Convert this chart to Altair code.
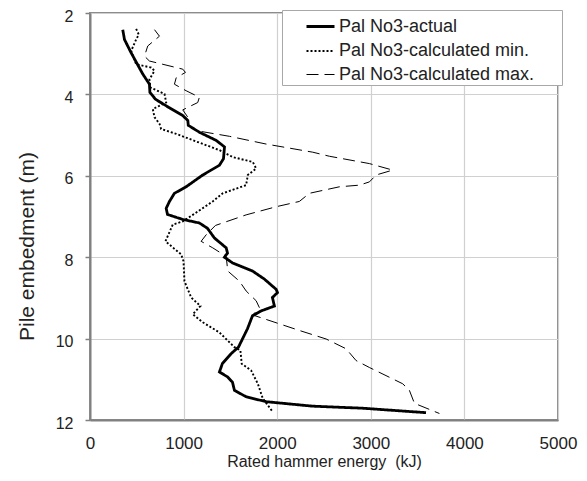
import altair as alt
import pandas as pd

series_names = ["Pal No3-actual", "Pal No3-calculated min.", "Pal No3-calculated max."]

actual_x = [350, 368, 440, 564, 635, 640, 700, 849, 991, 1045, 1050, 1169, 1348, 1437, 1426, 1383,
            1205, 1027, 902, 849, 814, 828, 988, 1169, 1255, 1330, 1455, 1469, 1436, 1522, 1736,
            1864, 1989, 2003, 1949, 1970, 1828, 1736, 1682, 1586, 1508, 1415, 1383, 1469, 1522,
            1543, 1668, 1882, 2376, 2910, 3590]
actual_y = [2.41, 2.65, 2.98, 3.50, 3.75, 3.95, 4.12, 4.33, 4.52, 4.64, 4.76, 4.93, 5.13, 5.29, 5.58, 5.74,
            5.98, 6.27, 6.43, 6.63, 6.80, 6.95, 7.07, 7.16, 7.29, 7.53, 7.77, 7.90, 8.00, 8.14, 8.34,
            8.54, 8.79, 8.87, 8.99, 9.20, 9.32, 9.44, 9.76, 10.21, 10.37, 10.61, 10.82, 10.94, 11.07,
            11.27, 11.43, 11.55, 11.66, 11.71, 11.82]

min_x = [493, 521, 493, 440, 493, 654, 689, 635, 646, 796, 814, 671, 689, 742, 760, 921, 1151, 1383,
         1525, 1739, 1775, 1686, 1668, 1418, 1311, 1098, 991, 884, 806, 974, 999, 1009, 1081, 1180,
         1098, 1205, 1383, 1543, 1607, 1621, 1721, 1793, 1846, 1952]
min_y = [2.39, 2.53, 2.65, 2.93, 3.26, 3.34, 3.42, 3.63, 3.83, 3.99, 4.20, 4.36, 4.56, 4.72, 4.85, 4.97,
         5.17, 5.37, 5.54, 5.66, 5.82, 5.98, 6.23, 6.43, 6.63, 6.96, 7.12, 7.20, 7.61, 7.93, 8.10, 8.59,
         8.99, 9.20, 9.40, 9.60, 9.85, 10.21, 10.29, 10.62, 10.78, 11.11, 11.47, 11.80]

max_x = [689, 742, 617, 582, 635, 778, 991, 1020, 921, 902, 1027, 1169, 1151, 991, 1045, 1045, 1134,
         1490, 1882, 2380, 2558, 2985, 3234, 3057, 2985, 2878, 2665, 2344, 2237, 1989, 1668, 1340,
         1241, 1187, 1311, 1455, 1472, 1597, 1668, 1775, 1810, 1739, 2237, 2523, 2736, 2843, 2985,
         3341, 3412, 3466, 3733]
max_y = [2.41, 2.57, 2.81, 3.06, 3.18, 3.26, 3.38, 3.46, 3.59, 3.75, 3.91, 4.07, 4.20, 4.38, 4.56, 4.76,
         4.89, 5.03, 5.22, 5.42, 5.52, 5.70, 5.86, 5.98, 6.15, 6.23, 6.27, 6.43, 6.63, 6.76, 6.96, 7.22,
         7.45, 7.61, 7.77, 7.98, 8.34, 8.59, 8.83, 9.07, 9.24, 9.42, 9.80, 10.01, 10.25, 10.54, 10.71,
         11.11, 11.27, 11.59, 11.84]

x_ticks = [0, 1000, 2000, 3000, 4000, 5000]
y_ticks = [2, 4, 6, 8, 10, 12]

rows = []
for name, xs, ys in zip(series_names, [actual_x, min_x, max_x], [actual_y, min_y, max_y]):
    for i, (xv, yv) in enumerate(zip(xs, ys)):
        rows.append({"series": name, "energy": xv, "depth": yv, "idx": i})
df = pd.DataFrame(rows)

FONT = "Liberation Sans"
BLANK = "\u2800"

legend_opts = dict(
    title=BLANK * 2, titleOrient="left", titleFontSize=15, titlePadding=0,
    orient="none", legendX=192, legendY=-3,
    symbolType="stroke", symbolSize=784, labelOffset=3, padding=1, rowPadding=-3,
    labelLimit=500,
    labelExpr="datum.label + '" + BLANK * 2 + "'",
)

chart = alt.Chart(df).mark_line(color="black", interpolate="linear").encode(
    x=alt.X("energy:Q",
            scale=alt.Scale(domain=[0, 5000], nice=False),
            axis=alt.Axis(values=x_ticks, title="Rated hammer energy\u00a0 (kJ)", ticks=False, tickSize=0,
                          labelFlush=False, labelPadding=15, titlePadding=2, titleFontSize=16,
                          labelFontSize=17, format="d")),
    y=alt.Y("depth:Q",
            scale=alt.Scale(domain=[2, 12], reverse=True, nice=False),
            axis=alt.Axis(values=y_ticks, title="Pile embedment (m)", tickSize=5, labelPadding=12,
                          labelOffset=3, labelFontSize=16, titlePadding=18, titleFontSize=21,
                          titleY=233)),
    order="idx:Q",
    strokeDash=alt.StrokeDash("series:N",
                              scale=alt.Scale(domain=series_names, range=[[1, 0], [2, 2], [12, 6]]),
                              legend=alt.Legend(**legend_opts)),
    strokeWidth=alt.StrokeWidth("series:N",
                                scale=alt.Scale(domain=series_names, range=[2.8, 1.0, 2.1]),
                                legend=alt.Legend(**legend_opts)),
).properties(
    width=468,
    height=407,
    autosize=alt.AutoSizeParams(type="none"),
    padding={"left": 82, "top": 5, "right": 20, "bottom": 52},
).configure_view(
    stroke="#8c8c8c", strokeWidth=2
).configure_axis(
    labelFont=FONT, labelColor="#222222",
    titleFont=FONT, titleFontWeight="normal", titleColor="#222222",
    gridColor="#d0d0d0", gridWidth=1.2,
    domainColor="#808080", domainWidth=2, tickColor="#808080", tickWidth=1.5,
).configure_legend(
    labelFont=FONT, labelFontSize=18, labelColor="#222222",
    strokeColor="#a8a8a8", fillColor="white", symbolStrokeColor="black",
)

chart.save("out.html", embed_options={"renderer": "svg", "actions": False})
